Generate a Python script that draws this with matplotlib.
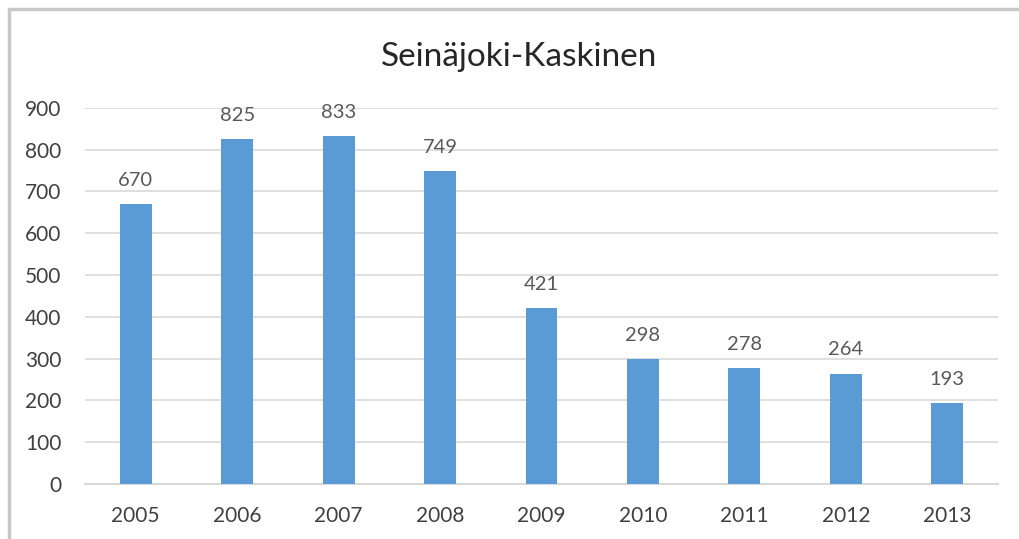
import matplotlib
matplotlib.use("Agg")
from matplotlib import pyplot as plt
from matplotlib.patches import Rectangle

# data
years = ['2005', '2006', '2007', '2008', '2009', '2010', '2011', '2012', '2013']
values = [670, 825, 833, 749, 421, 298, 278, 264, 193]
title = 'Seinäjoki-Kaskinen'

plt.rcParams['font.family'] = ['Lato', 'DejaVu Sans']

fig = plt.figure(figsize=(10.19, 5.39), dpi=100)
ax = fig.add_axes([0.0834, 0.102, 0.896, 0.698])

x = range(len(years))
bars = ax.bar(x, values, width=0.315, color='#5B9BD5', zorder=3)

for xi, v in zip(x, values):
    ax.annotate(str(v), (xi, v), xytext=(0, 11), textcoords='offset points',
                ha='center', va='bottom', fontsize=14.5, color='#595959')

ax.set_xlim(-0.5, len(years) - 0.5)
ax.set_ylim(0, 900)
ax.set_yticks(range(0, 901, 100))
ax.set_xticks(list(x))
ax.set_xticklabels(years)
ax.tick_params(axis='both', length=0, labelsize=15, labelcolor='#404040')
ax.tick_params(axis='y', pad=17)
ax.tick_params(axis='x', pad=16)
ax.grid(axis='y', color='#D9D9D9', linewidth=1.2, zorder=0)
for s in ['top', 'right', 'left']:
    ax.spines[s].set_visible(False)
ax.spines['bottom'].set_color('#D9D9D9')
ax.spines['bottom'].set_linewidth(1.5)

fig.text(0.509, 0.895, title, ha='center', va='center', fontsize=24, color='#262626')

# chart frame (right and bottom edges cut off)
fig.patches.append(Rectangle((9 / 1019, -0.1), 1.2, 1 - 9 / 539 + 0.1,
                             transform=fig.transFigure, fill=False,
                             edgecolor='#C8C8C8', linewidth=2.5))

fig.savefig('out.png', dpi=100)
